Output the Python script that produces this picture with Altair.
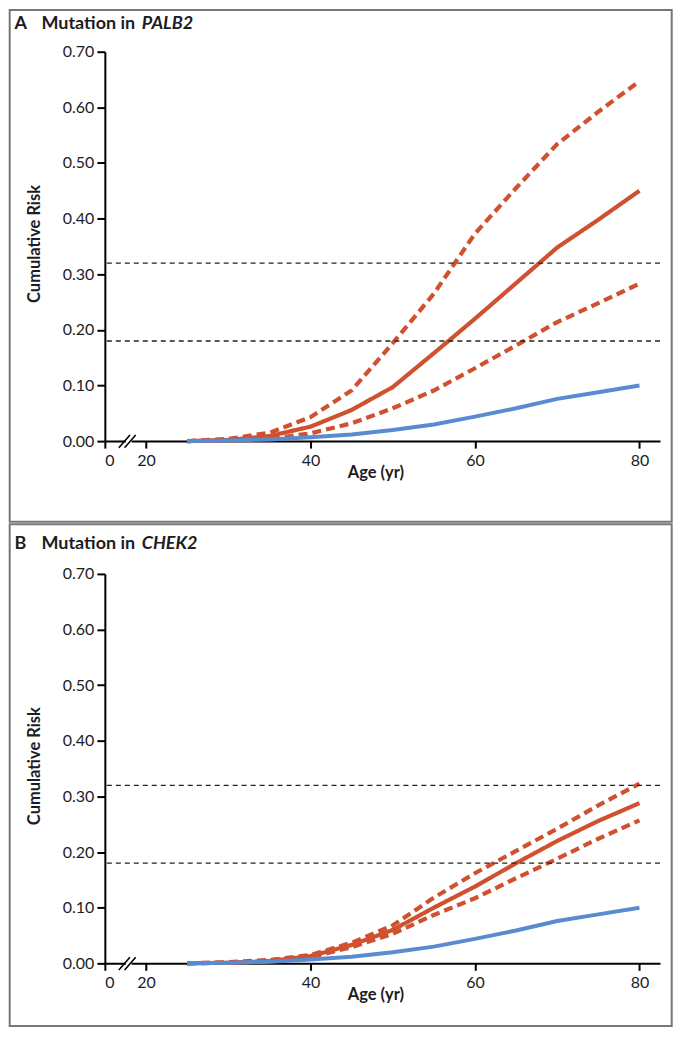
import altair as alt
import pandas as pd

# ---------------- data ----------------
ages = [25, 30, 35, 40, 45, 50, 55, 60, 65, 70, 75, 80]
general_pop = [0.000, 0.001, 0.003, 0.007, 0.012, 0.020, 0.030, 0.044, 0.059, 0.076, 0.088, 0.100]

palb2_est = [0.000, 0.002, 0.009, 0.026, 0.056, 0.097, 0.158, 0.220, 0.284, 0.348, 0.398, 0.450]
palb2_hi = [0.000, 0.004, 0.015, 0.043, 0.091, 0.176, 0.265, 0.373, 0.455, 0.534, 0.592, 0.647]
palb2_lo = [0.000, 0.001, 0.004, 0.014, 0.032, 0.059, 0.091, 0.131, 0.172, 0.214, 0.248, 0.283]

chek2_est = [0.000, 0.001, 0.004, 0.013, 0.033, 0.060, 0.100, 0.138, 0.180, 0.220, 0.256, 0.288]
chek2_hi = [0.000, 0.002, 0.006, 0.015, 0.037, 0.068, 0.118, 0.162, 0.202, 0.242, 0.284, 0.323]
chek2_lo = [0.000, 0.001, 0.003, 0.011, 0.029, 0.053, 0.087, 0.117, 0.153, 0.188, 0.224, 0.257]

reference_levels = [0.18, 0.32]
x_ticks = [15, 20, 40, 60, 80]          # 15 is shown as "0" (broken axis)
y_ticks = [0.0, 0.1, 0.2, 0.3, 0.4, 0.5, 0.6, 0.7]

# ---------------- styling ----------------
FONT = "Lato"
RED = "#D0512F"
BLUE = "#5A8BD0"
INK = "#1c1c24"
FRAME = "#777777"
W, H = 556, 390

XSCALE = alt.Scale(domain=[15, 82.5], nice=False, zero=False)
YSCALE = alt.Scale(domain=[0, 0.7], nice=False, zero=False)

XAXIS = alt.Axis(
    values=x_ticks,
    labelExpr="datum.value == 15 ? '0' : datum.label",
    title="Age (yr)",
    titleFont=FONT, titleFontSize=16.5, titleFontWeight="bold", titleColor=INK,
    titleX=271, titleY=31, titleBaseline="middle", titleAlign="center",
    labelFont=FONT, labelFontSize=16, labelColor=INK, labelPadding=4,
    tickSize=7, tickWidth=2, tickColor="black",
    domainWidth=2, domainColor="black", grid=False,
)
YAXIS = alt.Axis(
    values=y_ticks, format=".2f",
    title="Cumulative Risk",
    titleFont=FONT, titleFontSize=16.5, titleFontWeight="bold", titleColor=INK,
    titleX=-70, titleY=H / 2 - 3, titleAngle=270, titleAlign="center", titleBaseline="middle",
    labelFont=FONT, labelFontSize=16, labelColor=INK, labelPadding=3,
    tickSize=8, tickWidth=2, tickColor="black",
    domainWidth=2, domainColor="black", grid=False,
)


def X(field):
    return alt.X(field, scale=XSCALE, axis=XAXIS)


def Y(field):
    return alt.Y(field, scale=YSCALE, axis=YAXIS)


def one_row():
    return pd.DataFrame({"k": [0]})


def panel(letter, gene, est, lo, hi, frame_top, frame_bottom, title_y):
    rows = []
    for name, vals in (("hi", hi), ("lo", lo), ("est", est)):
        for a, v in zip(ages, vals):
            rows.append({"age": a, "risk": v, "series": name})
    red_df = pd.DataFrame(rows)
    blue_df = pd.DataFrame({"age": ages, "risk": general_pop})

    frame = alt.Chart(one_row()).mark_rect(
        fill="white", fillOpacity=0, stroke=FRAME, strokeWidth=2
    ).encode(
        x=alt.value(-95.3), x2=alt.value(567.7),
        y=alt.value(frame_top), y2=alt.value(frame_bottom),
    )

    red = alt.Chart(red_df).mark_line(color=RED).encode(
        x=X("age:Q"),
        y=Y("risk:Q"),
        detail="series:N",
        strokeDash=alt.StrokeDash(
            "series:N",
            scale=alt.Scale(domain=["hi", "lo", "est"], range=[[9, 5], [9, 5], [1, 0]]),
            legend=None,
        ),
        strokeWidth=alt.StrokeWidth(
            "series:N",
            scale=alt.Scale(domain=["hi", "lo", "est"], range=[4.2, 4.2, 3.6]),
            legend=None,
        ),
    )

    refs = alt.Chart(pd.DataFrame({"risk": reference_levels})).mark_rule(
        color="#222", strokeWidth=1.3, strokeDash=[5, 4]
    ).encode(y=Y("risk:Q"))

    blue = alt.Chart(blue_df).mark_line(color=BLUE, strokeWidth=4).encode(
        x=X("age:Q"),
        y=Y("risk:Q"),
    )

    # axis-break marks "//" on the x axis between 0 and 20
    gap = alt.Chart(pd.DataFrame({"age": [17.55], "b": [18.25], "risk": [0.0]})).mark_rule(
        color="white", strokeWidth=4
    ).encode(x=X("age:Q"), x2="b:Q", y=Y("risk:Q"))
    slashes = alt.Chart(pd.DataFrame({
        "age": [16.70, 17.40], "b": [18.05, 18.75],
        "risk": [-0.012, -0.012], "v2": [0.011, 0.011],
    })).mark_rule(color="black", strokeWidth=1.6).encode(
        x=X("age:Q"), x2="b:Q", y=Y("risk:Q"), y2="v2:Q",
    )

    t_letter = alt.Chart(one_row()).mark_text(
        text=letter, font=FONT, fontSize=18, fontWeight="bold", color=INK,
        align="left", baseline="alphabetic",
    ).encode(x=alt.value(-90.5), y=alt.value(title_y))
    t_main = alt.Chart(one_row()).mark_text(
        text="Mutation in", font=FONT, fontSize=18, fontWeight="bold", color=INK,
        align="left", baseline="alphabetic",
    ).encode(x=alt.value(-63.5), y=alt.value(title_y))
    t_gene = alt.Chart(one_row()).mark_text(
        text=gene, font=FONT, fontSize=18, fontWeight="bold", fontStyle="italic", color=INK,
        align="left", baseline="alphabetic",
    ).encode(x=alt.value(37.0), y=alt.value(title_y))

    return alt.layer(
        red, frame, refs, blue, gap, slashes, t_letter, t_main, t_gene
    ).properties(width=W, height=H)


panel_a = panel("A", "PALB2", palb2_est, palb2_lo, palb2_hi,
                frame_top=-41.75, frame_bottom=470.75, title_y=-22.4)
panel_b = panel("B", "CHEK2", chek2_est, chek2_lo, chek2_hi,
                frame_top=-49.8, frame_bottom=452.7, title_y=-25.0)

chart = alt.vconcat(panel_a, panel_b, spacing=0).properties(
    padding=0, background="white"
).configure_view(stroke=None)

chart.save("out.html", embed_options={"renderer": "svg", "actions": False})
